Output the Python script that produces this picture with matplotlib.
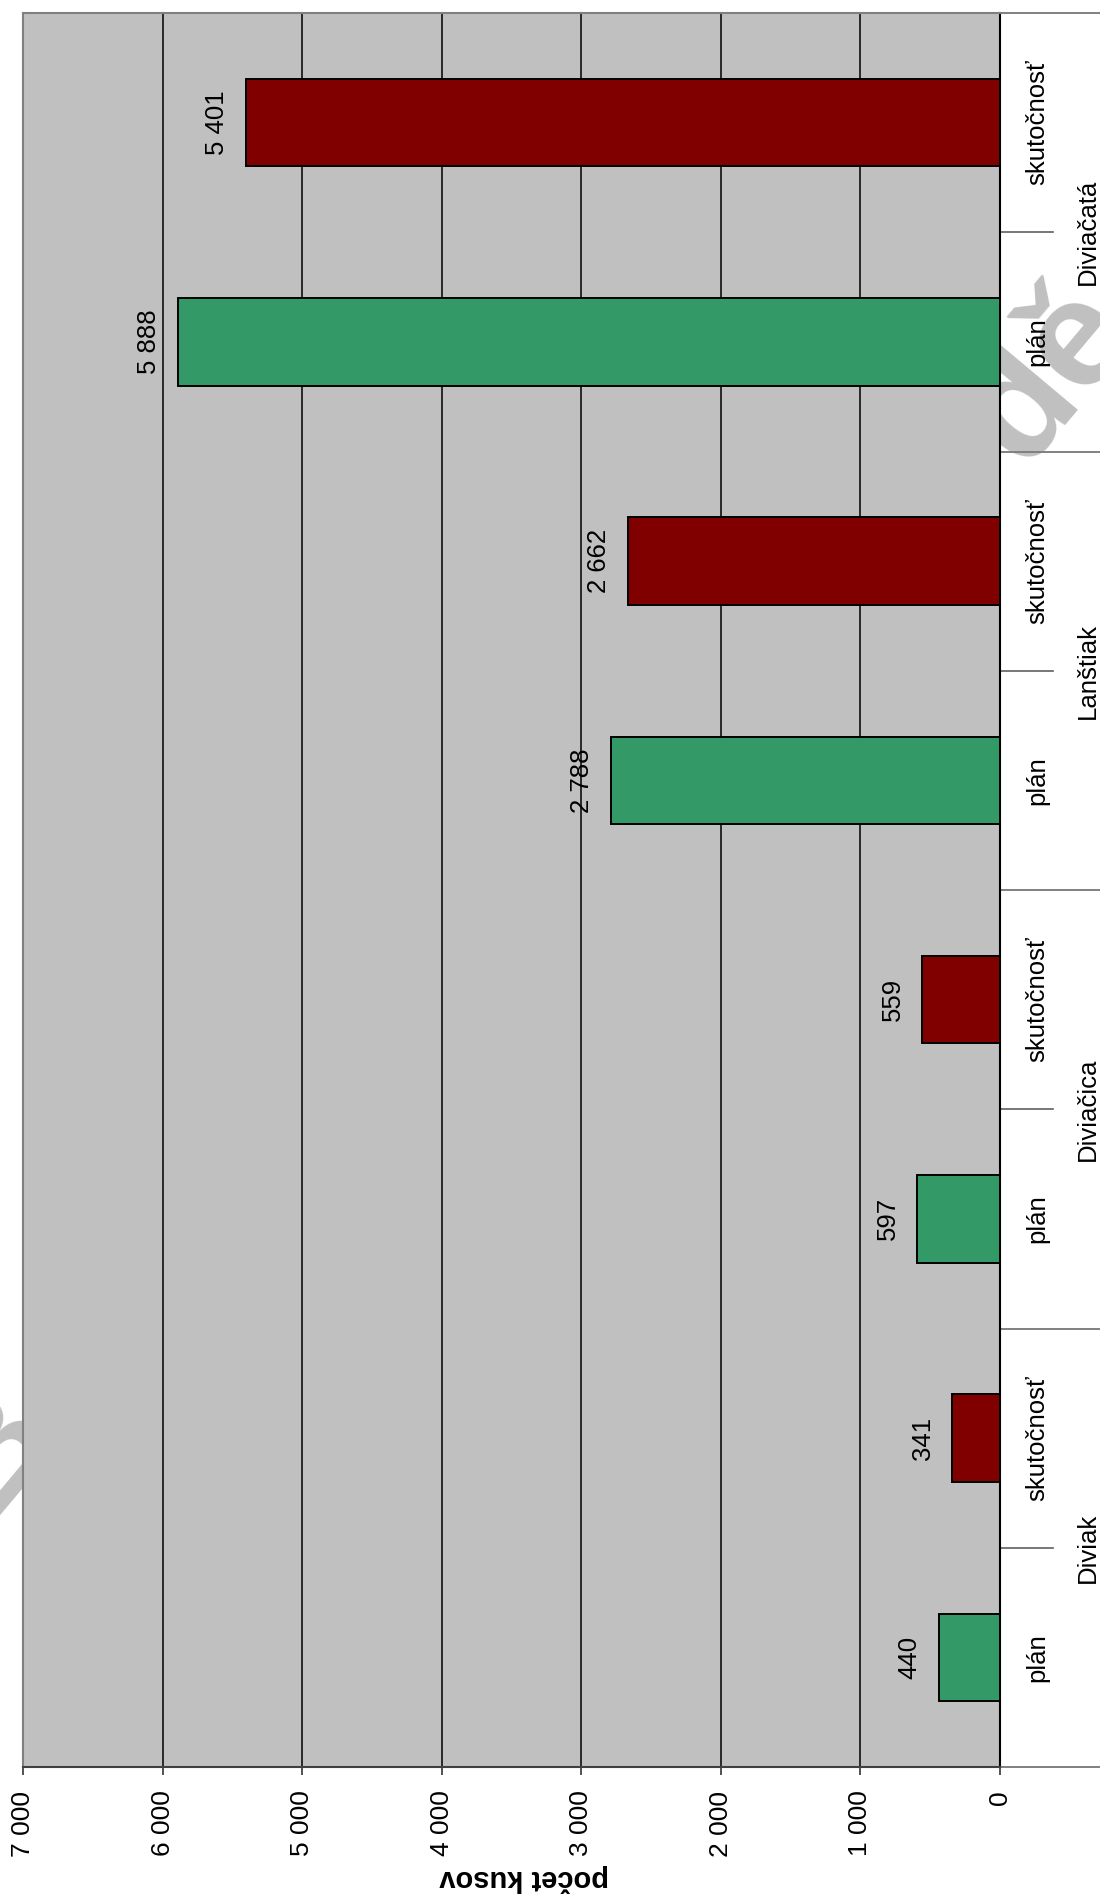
import numpy as np
import matplotlib.pyplot as plt

plt.rcParams['font.family'] = ['Liberation Sans', 'DejaVu Sans']

# data
groups = ['Diviak', 'Diviačica', 'Lanštiak', 'Diviačatá']
kinds = ['plán', 'skutočnosť']
values = [440, 341, 597, 559, 2788, 2662, 5888, 5401]
bar_colors = ['#339966', '#800000']
xticks = [0, 1000, 2000, 3000, 4000, 5000, 6000, 7000]

W, H = 1100, 1894
fig = plt.figure(figsize=(W / 100, H / 100), dpi=100)

# watermark pieces, hidden behind the plot area like in the source
fig.text(1050 / W, 1 - 375 / H, 'dě', fontsize=110, fontweight='bold',
         color='#c0c0c0', rotation=50, ha='center', va='center', zorder=-1)
fig.text(-6 / W, 1 - 1450 / H, 'B', fontsize=110, fontweight='bold',
         color='#c0c0c0', rotation=50, ha='center', va='center', zorder=-1)

left, right, top, bottom = 23, 1000, 13, 1767
ax = fig.add_axes([left / W, 1 - bottom / H, (right - left) / W, (bottom - top) / H])
ax.set_facecolor('#c0c0c0')

y = np.arange(len(values))
cols = [bar_colors[i % 2] for i in range(len(values))]
ax.barh(y, values, height=0.4, color=cols, edgecolor='black', linewidth=1.4, zorder=3)

ax.set_xlim(7000, 0)
ax.set_ylim(-0.5, len(values) - 0.5)
ax.set_xticks(xticks)
ax.set_xticklabels(['{:,}'.format(v).replace(',', ' ') for v in xticks],
                   rotation=90, fontsize=19)
ax.tick_params(axis='x', length=6, width=1.2, color='#333333', pad=11)
ax.set_yticks([])
ax.grid(axis='x', color='black', linewidth=1.1, zorder=1)

for s in ['left', 'top']:
    ax.spines[s].set_color('#808080')
    ax.spines[s].set_linewidth(1.5)
ax.spines['right'].set_color('black')
ax.spines['right'].set_linewidth(1.5)
ax.spines['bottom'].set_color('#404040')
ax.spines['bottom'].set_linewidth(1.5)

# value labels
for i, v in enumerate(values):
    ax.annotate('{:,}'.format(v).replace(',', ' '), xy=(v, i), xytext=(-21, 0),
                textcoords='offset points', rotation=90, ha='center', va='center',
                fontsize=18.5, zorder=4)

# two-level category axis on the right
tr = ax.get_yaxis_transform()
w = right - left
for i in range(len(values)):
    ax.text((1037 - left) / w, i, kinds[i % 2], transform=tr, rotation=90,
            ha='center', va='center', fontsize=18.5)
for g, name in enumerate(groups):
    ax.text((1088 - left) / w, 2 * g + 0.5, name, transform=tr, rotation=90,
            ha='center', va='center', fontsize=18.5)
    ax.plot([1, (1053 - left) / w], [2 * g + 0.5] * 2, transform=tr,
            color='#606060', linewidth=1.2, clip_on=False)
for b in range(len(groups) + 1):
    ax.plot([1, (1100 - left) / w], [2 * b - 0.5] * 2, transform=tr,
            color='#808080', linewidth=1.4, clip_on=False)

fig.text(524 / W, 1 - 1878 / H, 'počet kusov', rotation=180, ha='center',
         va='center', fontsize=21, fontweight='bold')

fig.savefig('out.png', dpi=100)
